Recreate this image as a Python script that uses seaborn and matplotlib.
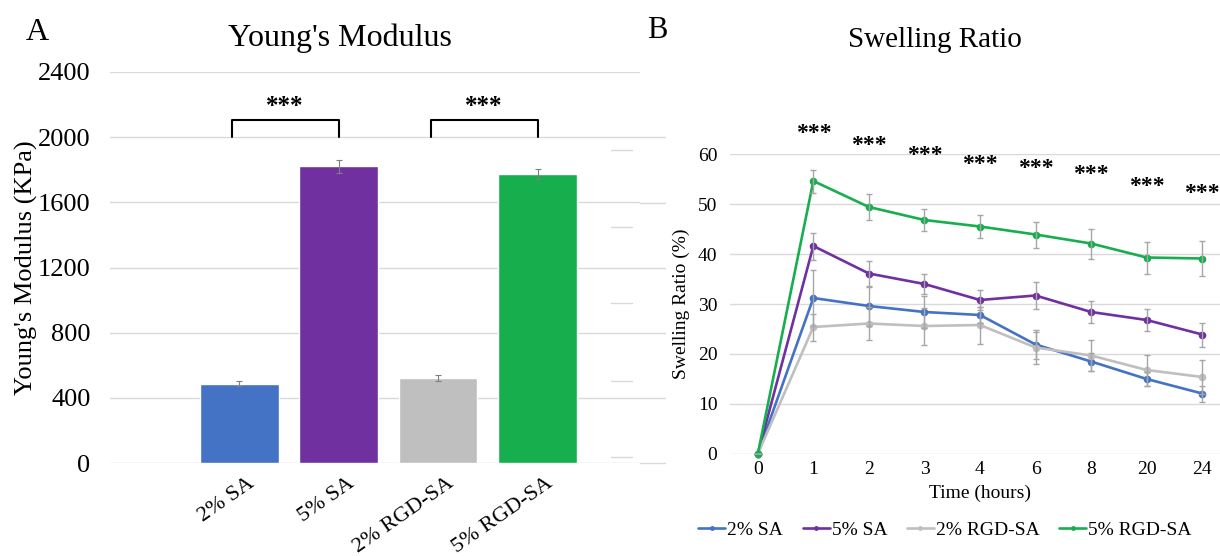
import matplotlib
matplotlib.use("Agg")
import matplotlib.pyplot as plt
from matplotlib.lines import Line2D
from matplotlib.transforms import ScaledTranslation
import numpy as np
import pandas as pd
import seaborn as sns

# ---- data -----------------------------------------------------------------
groups = ["2% SA", "5% SA", "2% RGD-SA", "5% RGD-SA"]
colors = ["#4472C4", "#7030A0", "#BFBFBF", "#17AF4E"]

modulus = [487, 1820, 523, 1772]
modulus_err = [14, 38, 18, 30]
sig_pairs = [(0, 1), (2, 3)]
bracket_low, bracket_high, bracket_star = 2000, 2105, 2190

hours = ["0", "1", "2", "3", "4", "6", "8", "20", "24"]
swell_2sa = [0, 31.2, 29.6, 28.4, 27.8, 21.9, 18.5, 15.0, 12.1]
swell_5sa = [0, 41.6, 36.1, 34.0, 30.8, 31.7, 28.4, 26.8, 23.9]
swell_2rgd = [0, 25.4, 26.1, 25.6, 25.8, 21.3, 19.7, 16.8, 15.4]
swell_5rgd = [0, 54.6, 49.4, 46.8, 45.5, 43.9, 42.1, 39.3, 39.1]
err_2sa = [0, 5.6, 4.0, 3.2, 1.6, 2.9, 1.8, 1.4, 1.6]
err_5sa = [0, 2.7, 2.6, 2.0, 2.0, 2.7, 2.2, 2.2, 2.4]
err_2rgd = [0, 2.7, 3.3, 3.7, 3.7, 3.2, 3.1, 3.1, 3.4]
err_5rgd = [0, 2.3, 2.6, 2.2, 2.3, 2.6, 3.0, 3.2, 3.5]
star_level = [None, 64.1, 61.8, 59.8, 58.0, 57.1, 55.9, 53.5, 52.2]

# ---- style ----------------------------------------------------------------
sns.set_theme(style="white")
plt.rcParams["font.family"] = ["Liberation Serif", "DejaVu Serif"]
for key in ["text.color", "axes.labelcolor", "xtick.color", "ytick.color"]:
    plt.rcParams[key] = "black"

fig = plt.figure(figsize=(12.2, 5.56), dpi=100)
W, H = 1220, 556
grid_kw = dict(color="#D9D9D9", linewidth=1.0)

# ---- panel A: Young's modulus ---------------------------------------------
axA = fig.add_axes([110 / W, 1 - 463 / H, 530 / W, 391 / H])
dfA = pd.DataFrame({"group": groups, "modulus": modulus})
sns.barplot(data=dfA, x="group", y="modulus", hue="group", order=groups,
            hue_order=groups, palette=colors, dodge=False, legend=False,
            width=0.79, errorbar=None, saturation=1, ax=axA, zorder=2)
axA.errorbar(range(len(groups)), modulus, yerr=modulus_err, fmt="none",
             ecolor="#7F7F7F", elinewidth=0.8, capsize=2, capthick=0.8, zorder=3)
for a, b in sig_pairs:
    axA.plot([a - 0.07, a - 0.07, b, b],
             [bracket_low, bracket_high, bracket_high, bracket_low],
             color="black", lw=1.5, clip_on=False, zorder=4)
    axA.text((a + b) / 2 - 0.04, bracket_star, "***", ha="center", va="center",
             fontsize=18, fontweight="bold")
axA.set_ylim(0, 2400)
axA.set_yticks(np.arange(0, 2401, 400))
axA.set_xlim(-1.3, 4.03)
axA.yaxis.grid(True, **grid_kw)
axA.set_axisbelow(True)
sns.despine(ax=axA, left=True, bottom=True)
axA.tick_params(axis="y", length=0, pad=14, labelsize=19)
axA.tick_params(axis="x", length=0, pad=8, labelsize=16)
axA.set_xlabel("")
axA.set_ylabel("Young's Modulus (KPa)", fontsize=19, labelpad=0)
for lbl in axA.get_xticklabels():
    lbl.set_rotation(35)
    lbl.set_ha("right")
    lbl.set_rotation_mode("anchor")
    lbl.set_transform(lbl.get_transform() + ScaledTranslation(0.08, 0, fig.dpi_scale_trans))

fig.text(340 / W, 1 - 38 / H, "Young's Modulus", fontsize=23, ha="center", va="center")
fig.text(37 / W, 1 - 33 / H, "A", fontsize=23, ha="center", va="center")

# ---- panel B: swelling ratio ----------------------------------------------
axB = fig.add_axes([730 / W, 1 - 454 / H, 500 / W, 300 / H])
series = {"2% SA": (swell_2sa, err_2sa), "5% SA": (swell_5sa, err_5sa),
          "2% RGD-SA": (swell_2rgd, err_2rgd), "5% RGD-SA": (swell_5rgd, err_5rgd)}
rows = []
for name, (vals, errs) in series.items():
    for i, (v, e) in enumerate(zip(vals, errs)):
        rows.append({"series": name, "pos": i, "value": v, "err": e})
dfB = pd.DataFrame(rows)

for name, color in zip(groups, colors):
    sub = dfB[dfB["series"] == name]
    axB.errorbar(sub["pos"], sub["value"], yerr=sub["err"], fmt="none",
                 ecolor="#A6A6A6", elinewidth=1.0, capsize=2.5, capthick=1.0, zorder=3)
sns.lineplot(data=dfB, x="pos", y="value", hue="series", hue_order=groups,
             palette=colors, marker="o", markersize=5.5, markeredgewidth=0,
             linewidth=1.9, legend=False, ax=axB, zorder=2, clip_on=False)

for i, lvl in enumerate(star_level):
    if lvl is not None:
        axB.text(i, lvl, "***", ha="center", va="center", fontsize=17,
                 fontweight="bold", clip_on=False)

axB.set_ylim(0, 60)
axB.set_yticks(np.arange(0, 61, 10))
axB.set_xlim(-0.5, 8.5)
axB.set_xticks(range(len(hours)))
axB.set_xticklabels(hours)
axB.yaxis.grid(True, **grid_kw)
axB.set_axisbelow(True)
sns.despine(ax=axB, left=True, bottom=True)
axB.tick_params(axis="both", length=0, labelsize=14)
axB.tick_params(axis="y", pad=9)
axB.tick_params(axis="x", pad=5)
axB.set_xlabel("Time (hours)", fontsize=14, labelpad=5)
axB.set_ylabel("Swelling Ratio (%)", fontsize=14, labelpad=6)

handles = [Line2D([], [], color=c, lw=1.9, marker="o", markersize=3.5, markeredgewidth=0)
           for c in colors]
fig.legend(handles, groups, loc="center", bbox_to_anchor=(945 / W, 1 - 530 / H),
           ncol=4, frameon=False, fontsize=14, handlelength=1.4,
           handletextpad=0.1, columnspacing=1.0)

fig.text(935 / W, 1 - 40 / H, "Swelling Ratio", fontsize=21, ha="center", va="center")
fig.text(657 / W, 1 - 30 / H, "B", fontsize=22, ha="center", va="center")

# faint leftover gridline fragments seen in the original figure
for y in [150, 227, 303, 381, 457]:
    fig.add_artist(Line2D([611 / W, 632 / W], [1 - y / H, 1 - y / H],
                          transform=fig.transFigure, **grid_kw))
for y in [137, 203, 268, 333, 398, 463]:
    fig.add_artist(Line2D([640 / W, 665 / W], [1 - y / H, 1 - y / H],
                          transform=fig.transFigure, **grid_kw))

fig.savefig("out.png", dpi=100)
